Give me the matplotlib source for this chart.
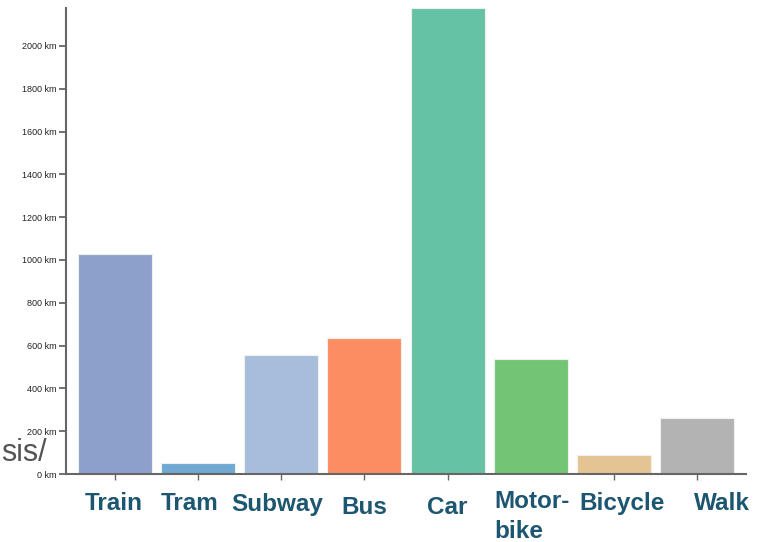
import matplotlib.pyplot as plt
import matplotlib.transforms as mtransforms
from matplotlib.patches import Rectangle

plt.rcParams['font.family'] = ['Liberation Sans', 'DejaVu Sans']

modes = ["Train", "Tram", "Subway", "Bus", "Car", "Motor-\nbike", "Bicycle", "Walk"]
distance_km = [1028, 51, 556, 635, 2177, 537, 89, 262]
colors = ["#8da0cb", "#6fa8d3", "#a6bddb", "#fc8d62", "#66c2a5", "#74c476", "#e5c494", "#b3b3b3"]
ytick_vals = [0, 200, 400, 600, 800, 1000, 1200, 1400, 1600, 1800, 2000]

# where the category labels sit (pixels from top-left), they are not centred on the ticks
label_x = [114, 190, 277, 364, 447, 494, 622, 722]
label_base = [510, 510, 511, 514, 514, 508, 510, 510]

fig = plt.figure(figsize=(7.61, 5.42), dpi=100)
ax = fig.add_axes([66 / 761, 68 / 542, 680 / 761, 466 / 542])

x = list(range(len(modes)))
ax.bar(x, distance_km, width=0.89, color=colors, edgecolor="#eef2ee", linewidth=0.8, zorder=2)

ax.set_xlim(-0.5 - 0.085, len(modes) - 0.5 + 0.085)
ax.set_ylim(0, max(distance_km))

for s in ["top", "right"]:
    ax.spines[s].set_visible(False)
for s in ["left", "bottom"]:
    ax.spines[s].set_color("#666666")
    ax.spines[s].set_linewidth(1.5)

ax.set_yticks(ytick_vals)
ax.set_yticklabels([f"{v} km" for v in ytick_vals], fontsize=6.5, color="#222222")
ax.tick_params(axis="y", length=5, width=1.3, color="#666666", pad=2)

ax.set_xticks(x)
ax.set_xticklabels([""] * len(modes))
ax.tick_params(axis="x", length=4, width=1.0, color="#666666")

# white box behind the motorbike label hides part of the axis line
trans = mtransforms.blended_transform_factory(ax.transData, ax.transAxes)
ax.add_patch(Rectangle((4.29, -0.03), 1.39, 0.028, transform=trans,
                       facecolor="white", edgecolor="none", zorder=5, clip_on=False))

for name, lx, lb in zip(modes, label_x, label_base):
    if "\n" in name:
        first, second = name.split("\n")
        fig.text(lx, 542 - lb, first, transform=None, ha="left", va="baseline",
                 fontsize=17.5, fontweight="bold", color="#1d5670")
        fig.text(lx, 542 - lb - 30, second, transform=None, ha="left", va="baseline",
                 fontsize=17.5, fontweight="bold", color="#1d5670")
    else:
        fig.text(lx, 542 - lb, name, transform=None, ha="center", va="baseline",
                 fontsize=17.5, fontweight="bold", color="#1d5670")

fig.text(1, 542 - 461, "sis/", transform=None, fontsize=22, color="#555555",
         va="baseline", ha="left")

fig.savefig("out.png", dpi=100)
